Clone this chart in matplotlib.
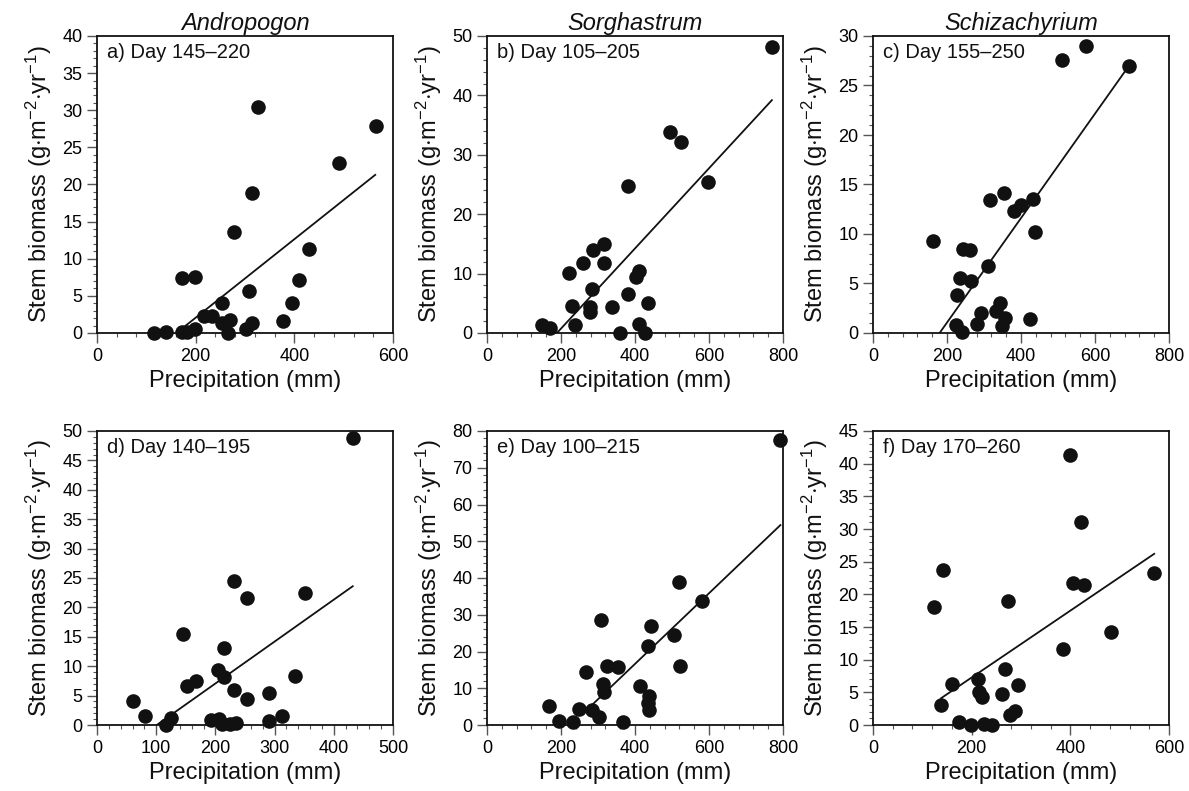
import numpy as np
import matplotlib
matplotlib.use("Agg")
import matplotlib.pyplot as plt
from matplotlib.ticker import MultipleLocator, AutoMinorLocator

plt.rcParams["font.family"] = ["Liberation Sans", "DejaVu Sans"]
plt.rcParams["mathtext.fontset"] = "custom"
plt.rcParams["mathtext.rm"] = "Liberation Sans"
plt.rcParams["mathtext.it"] = "Liberation Sans:italic"

# genus names (column titles) and panel labels
genera = ["Andropogon", "Sorghastrum", "Schizachyrium"]
panel_labels = ["a) Day 145\u2013220", "b) Day 105\u2013205", "c) Day 155\u2013250",
                "d) Day 140\u2013195", "e) Day 100\u2013215", "f) Day 170\u2013260"]

# a) Andropogon, day 145-220
a_x = [116, 140, 172, 182, 199, 172, 199, 216, 233, 254, 254, 269, 265, 277, 309,
       314, 302, 314, 326, 378, 395, 409, 430, 490, 565]
a_y = [0.0, 0.2, 0.1, 0.1, 0.5, 7.4, 7.55, 2.3, 2.3, 4.0, 1.3, 1.7, 0.0, 13.6, 5.7,
       18.8, 0.6, 1.3, 30.4, 1.6, 4.1, 7.1, 11.3, 22.9, 27.9]
a_fit_x = [161, 564]
a_fit_y = [0.0, 21.3]

# b) Sorghastrum, day 105-205
b_x = [771, 495, 525, 598, 380, 315, 286, 259, 317, 222, 411, 403, 283, 382, 230,
       279, 279, 338, 434, 148, 169, 239, 359, 410, 426]
b_y = [48.1, 33.8, 32.1, 25.4, 24.7, 14.9, 13.9, 11.8, 11.8, 10.1, 10.5, 9.4, 7.4, 6.5, 4.6,
       4.3, 3.5, 4.3, 5.0, 1.3, 0.8, 1.3, 0.05, 1.5, 0.05]
b_fit_x = [189, 770]
b_fit_y = [0.0, 39.2]

# c) Schizachyrium, day 155-250
c_x = [575, 510, 693, 355, 317, 432, 400, 380, 437, 163, 243, 263, 312, 234, 265,
       227, 342, 333, 293, 358, 425, 281, 348, 223, 240]
c_y = [29.0, 27.6, 27.0, 14.1, 13.4, 13.5, 12.9, 12.3, 10.2, 9.3, 8.5, 8.4, 6.8, 5.6, 5.3,
       3.8, 3.0, 2.2, 2.0, 1.5, 1.4, 0.9, 0.7, 0.8, 0.1]
c_fit_x = [180, 690]
c_fit_y = [0.0, 26.9]

# d) Andropogon, day 140-195
d_x = [432, 232, 254, 351, 145, 214, 204, 215, 152, 168, 231, 254, 290, 335, 61,
       81, 125, 117, 193, 206, 211, 224, 235, 291, 312]
d_y = [48.8, 24.5, 21.6, 22.4, 15.4, 13.1, 9.4, 8.1, 6.7, 7.4, 6.0, 4.4, 5.5, 8.4, 4.1,
       1.6, 1.2, 0.0, 0.8, 1.1, 0.1, 0.1, 0.3, 0.6, 1.6]
d_fit_x = [101, 432]
d_fit_y = [0.0, 23.6]

# e) Sorghastrum, day 100-215
e_x = [793, 520, 581, 309, 444, 505, 435, 522, 325, 353, 268, 314, 315, 413, 439,
       434, 439, 168, 249, 285, 304, 194, 232, 367]
e_y = [77.6, 38.8, 33.8, 28.5, 27.0, 24.4, 21.4, 16.1, 16.1, 15.7, 14.3, 11.1, 8.9, 10.5, 8.0,
       6.0, 4.0, 5.3, 4.3, 4.0, 2.2, 1.0, 0.8, 0.7]
e_fit_x = [277, 793]
e_fit_y = [4.8, 54.4]

# f) Schizachyrium, day 170-260
f_x = [399, 422, 142, 570, 405, 428, 273, 123, 482, 385, 268, 161, 212, 214, 221,
       261, 293, 138, 175, 198, 224, 241, 287, 277]
f_y = [41.4, 31.0, 23.8, 23.3, 21.8, 21.5, 19.0, 18.0, 14.2, 11.7, 8.5, 6.3, 7.1, 5.0, 4.3,
       4.8, 6.1, 3.0, 0.4, 0.0, 0.2, 0.0, 2.2, 1.5]
f_fit_x = [138, 570]
f_fit_y = [4.1, 26.2]

xs = [a_x, b_x, c_x, d_x, e_x, f_x]
ys = [a_y, b_y, c_y, d_y, e_y, f_y]
fit_xs = [a_fit_x, b_fit_x, c_fit_x, d_fit_x, e_fit_x, f_fit_x]
fit_ys = [a_fit_y, b_fit_y, c_fit_y, d_fit_y, e_fit_y, f_fit_y]

# axis limits and major steps per panel
x_max = [600, 800, 800, 500, 800, 600]
x_step = [200, 200, 200, 100, 200, 200]
y_max = [40, 50, 30, 50, 80, 45]
y_step = [5, 10, 5, 5, 10, 5]

fig = plt.figure(figsize=(11.89, 7.91), dpi=100)

W, H = 1189.0, 791.0
lefts = [97, 487, 873]
tops = [36, 431]
bottoms = [333, 725]

ylab = r"Stem biomass (g$\cdot$m$^{-2}$$\cdot$yr$^{-1}$)"

for i in range(6):
    row, col = divmod(i, 3)
    ax = fig.add_axes([lefts[col] / W, 1 - bottoms[row] / H,
                       296 / W, (bottoms[row] - tops[row]) / H])
    ax.plot(fit_xs[i], fit_ys[i], color="#111111", lw=1.3, zorder=2)
    ax.plot(xs[i], ys[i], "o", color="#111111", ms=10.5, mec="none", zorder=3,
            clip_on=False)
    ax.set_xlim(0, x_max[i])
    ax.set_ylim(0, y_max[i])
    ax.xaxis.set_major_locator(MultipleLocator(x_step[i]))
    ax.yaxis.set_major_locator(MultipleLocator(y_step[i]))
    ax.xaxis.set_minor_locator(AutoMinorLocator(5))
    ax.yaxis.set_minor_locator(AutoMinorLocator(5))
    ax.tick_params(which="major", direction="out", length=7, width=1,
                   labelsize=13, color="#555555")
    ax.tick_params(which="minor", direction="out", length=3, width=0.8,
                   color="#555555")
    for s in ax.spines.values():
        s.set_linewidth(1.3)
        s.set_color("#111111")
    ax.text(0.035, 0.975, panel_labels[i], transform=ax.transAxes,
            fontsize=14.5, va="top", ha="left", color="#111111")
    ax.set_xlabel("Precipitation (mm)", fontsize=17, labelpad=4, color="#111111")
    ax.set_ylabel(ylab, fontsize=17, labelpad=6, color="#111111")
    if row == 0:
        ax.set_title(genera[col], fontsize=17, style="italic", pad=4,
                     color="#111111")

fig.savefig("out.png", dpi=100)
